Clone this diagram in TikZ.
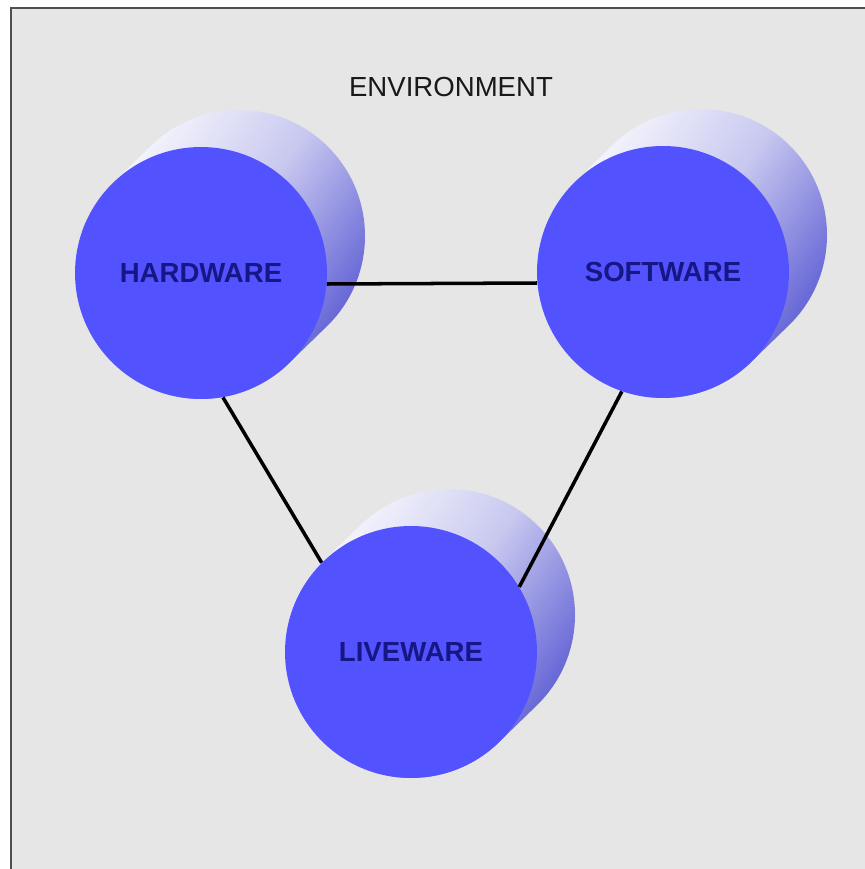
\documentclass[tikz,border=0pt]{standalone}
\usepackage{fontspec}
\setmainfont{Liberation Sans}
\definecolor{panelgray}{RGB}{230,230,230}
\definecolor{framegray}{RGB}{80,80,80}
\definecolor{facecol}{RGB}{82,82,255}
\definecolor{sidecol}{RGB}{84,84,210}
\definecolor{sidemid}{RGB}{200,200,240}
\definecolor{labelcol}{RGB}{22,22,135}
\begin{document}
\begin{tikzpicture}[x=0.02cm, y=0.02cm,
    face/.style={circle, fill=facecol, minimum size=5.04cm, inner sep=0pt,
      font=\bfseries\fontsize{15.7}{18}\selectfont, text=labelcol},
    side/.style={top color=white, bottom color=sidecol, middle color=sidemid, shading angle=55},
    link/.style={line width=2pt, black}]
  \useasboundingbox (0,0) rectangle (865,869);
  \fill[white] (0,0) rectangle (865,869);
  \clip (0,0) rectangle (865,869);
  % panel
  \filldraw[fill=panelgray, draw=framegray, line width=1.4pt] (11,861) rectangle (900,-30);
  \node[font=\fontsize{15.7}{18}\selectfont, text=black!90] (env) at (451,782) {ENVIRONMENT};
  % cylinders
  \foreach \name/\cx/\cy/\txt in {hw/201/596/HARDWARE, sw/663/597/SOFTWARE, lw/411/217/LIVEWARE} {
    \shade[side] (\cx,\cy) ++(135:126) -- ++(38,37)
      arc[start angle=135, end angle=-45, radius=126] -- ++(-38,-37)
      arc[start angle=-45, end angle=-225, radius=126] -- cycle;
    \node[face] (\name) at (\cx,\cy) {\txt};
  }
  % links
  \draw[link] (hw.-5) -- (sw.185);
  \draw[link] (hw.-80) -- (lw.135);
  \draw[link] (sw.-109) -- (lw.31);
\end{tikzpicture}
\end{document}
